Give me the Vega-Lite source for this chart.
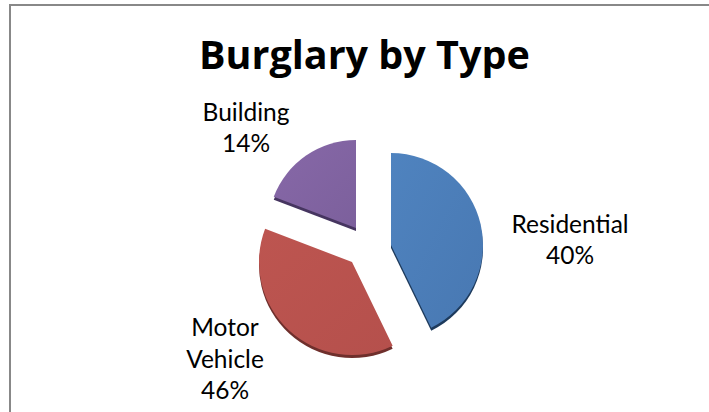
{
"$schema":"https://vega.github.io/schema/vega-lite/v6.json",
"width":720,"height":420,
"autosize":"none",
"padding":{"left":10,"top":5,"right":0,"bottom":0},
"background":"white",
"view":{"stroke":"#888888","strokeWidth":2,"fill":"white"},
"title":{"text":"Burglary by Type","font":"Open Sans","fontSize":39.5,"fontWeight":"bold","color":"#000000","anchor":"start","frame":"group","orient":"top","offset":-72,"dx":189},
"data":{"values":[
{"type":"Residential","share":42.8,"label":"Residential\n40%"},
{"type":"Motor Vehicle","share":38,"label":"Motor\nVehicle\n46%"},
{"type":"Building","share":19.2,"label":"Building\n14%"}
]},
"transform":[{"stack":"share","groupby":[],"as":["start","end"]}],
"encoding":{
"theta":{"field":"start","type":"quantitative","scale":{"domain":[0,100]}},
"theta2":{"field":"end"}
},
"layer":[
{"transform":[{"filter":"datum.type==='Residential'"}],"mark":{"type":"arc","outerRadius":92,"fill":"#1d3a5c","xOffset":21,"yOffset":33}},
{"transform":[{"filter":"datum.type==='Motor Vehicle'"}],"mark":{"type":"arc","outerRadius":93,"fill":"#6f2f2c","xOffset":-18,"yOffset":50}},
{"transform":[{"filter":"datum.type==='Building'"}],"mark":{"type":"arc","outerRadius":88,"fill":"#463560","xOffset":-14,"yOffset":16}},
{"transform":[{"filter":"datum.type==='Residential'"}],"mark":{"type":"arc","outerRadius":92,"fill":{"gradient":"linear","x1":0,"y1":0,"x2":1,"y2":1,"stops":[{"offset":0,"color":"#4f83bf"},{"offset":1,"color":"#4878b2"}]},"xOffset":21,"yOffset":30}},
{"transform":[{"filter":"datum.type==='Motor Vehicle'"}],"mark":{"type":"arc","outerRadius":93,"fill":{"gradient":"linear","x1":0,"y1":0,"x2":1,"y2":1,"stops":[{"offset":0,"color":"#bd5550"},{"offset":1,"color":"#b5504c"}]},"xOffset":-18,"yOffset":47}},
{"transform":[{"filter":"datum.type==='Building'"}],"mark":{"type":"arc","outerRadius":88,"fill":{"gradient":"linear","x1":0,"y1":0,"x2":1,"y2":1,"stops":[{"offset":0,"color":"#8768a8"},{"offset":1,"color":"#7c609c"}]},"xOffset":-14,"yOffset":13}},
{"transform":[{"filter":"datum.type==='Residential'"}],"mark":{"type":"text","font":"Lato","fontSize":24.5,"lineBreak":"\n","lineHeight":31,"align":"center","baseline":"top","color":"#000000","xOffset":200,"yOffset":-1},"encoding":{"theta":null,"theta2":null,"text":{"field":"label"}}},
{"transform":[{"filter":"datum.type==='Motor Vehicle'"}],"mark":{"type":"text","font":"Lato","fontSize":24.5,"lineBreak":"\n","lineHeight":31.5,"align":"center","baseline":"top","color":"#000000","xOffset":-145,"yOffset":102},"encoding":{"theta":null,"theta2":null,"text":{"field":"label"}}},
{"transform":[{"filter":"datum.type==='Building'"}],"mark":{"type":"text","font":"Lato","fontSize":24.5,"lineBreak":"\n","lineHeight":31,"align":"center","baseline":"top","color":"#000000","xOffset":-124,"yOffset":-113},"encoding":{"theta":null,"theta2":null,"text":{"field":"label"}}}
]
}
